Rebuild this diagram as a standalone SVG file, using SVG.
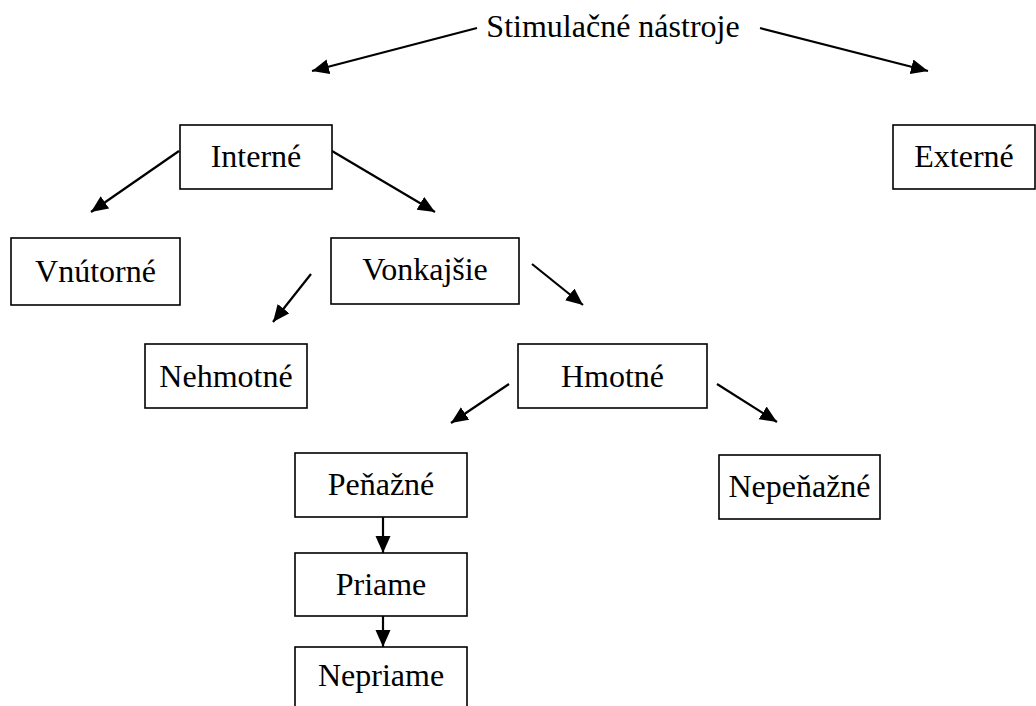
<svg xmlns="http://www.w3.org/2000/svg" width="1036" height="706" viewBox="0 0 1036 706">
<style>
.box{fill:#fff;stroke:#000;stroke-width:1.6}
.lbl{font-family:"Liberation Serif","Times New Roman",serif;font-size:32px;fill:#000;text-anchor:middle}
.con{stroke:#000;stroke-width:2.2;fill:none;marker-end:url(#ah)}
</style>
<defs>
<marker id="ah" markerUnits="userSpaceOnUse" markerWidth="19" markerHeight="16" refX="17" refY="7.5" orient="auto">
<path d="M0,0 L17,7.5 L0,15 z" fill="#000"/>
</marker>
</defs>
<rect width="1036" height="706" fill="#fff"/>
<g id="connectors">
<line class="con" x1="477" y1="28" x2="312" y2="71"/>
<line class="con" x1="760" y1="28" x2="928" y2="71"/>
<line class="con" x1="179" y1="151" x2="91" y2="212"/>
<line class="con" x1="332" y1="151" x2="435" y2="212"/>
<line class="con" x1="311" y1="274" x2="273" y2="322"/>
<line class="con" x1="532" y1="264" x2="583" y2="305"/>
<line class="con" x1="509" y1="384" x2="451" y2="423"/>
<line class="con" x1="717" y1="384" x2="777" y2="422"/>
<line class="con" x1="383" y1="517" x2="383" y2="553"/>
<line class="con" x1="383" y1="616" x2="383" y2="647"/>
</g>
<g id="title"><text class="lbl" x="613" y="37">Stimulačné nástroje</text></g>
<g id="interne"><rect class="box" x="180" y="125" width="152" height="64"/><text class="lbl" x="256" y="167">Interné</text></g>
<g id="externe"><rect class="box" x="893" y="125" width="142" height="64"/><text class="lbl" x="964" y="167">Externé</text></g>
<g id="vnutorne"><rect class="box" x="11" y="238" width="169" height="67"/><text class="lbl" x="95.5" y="282">Vnútorné</text></g>
<g id="vonkajsie"><rect class="box" x="331" y="238" width="188" height="66"/><text class="lbl" x="425" y="280">Vonkajšie</text></g>
<g id="nehmotne"><rect class="box" x="145" y="344" width="162" height="64"/><text class="lbl" x="226" y="387">Nehmotné</text></g>
<g id="hmotne"><rect class="box" x="518" y="344" width="189" height="64"/><text class="lbl" x="612.5" y="387">Hmotné</text></g>
<g id="penazne"><rect class="box" x="295" y="453" width="172" height="64"/><text class="lbl" x="381" y="495">Peňažné</text></g>
<g id="nepenazne"><rect class="box" x="719" y="455" width="161" height="64"/><text class="lbl" x="799.5" y="497">Nepeňažné</text></g>
<g id="priame"><rect class="box" x="295" y="553" width="172" height="63"/><text class="lbl" x="381" y="595">Priame</text></g>
<g id="nepriame"><rect class="box" x="295" y="647" width="172" height="70"/><text class="lbl" x="381" y="686">Nepriame</text></g>
</svg>
